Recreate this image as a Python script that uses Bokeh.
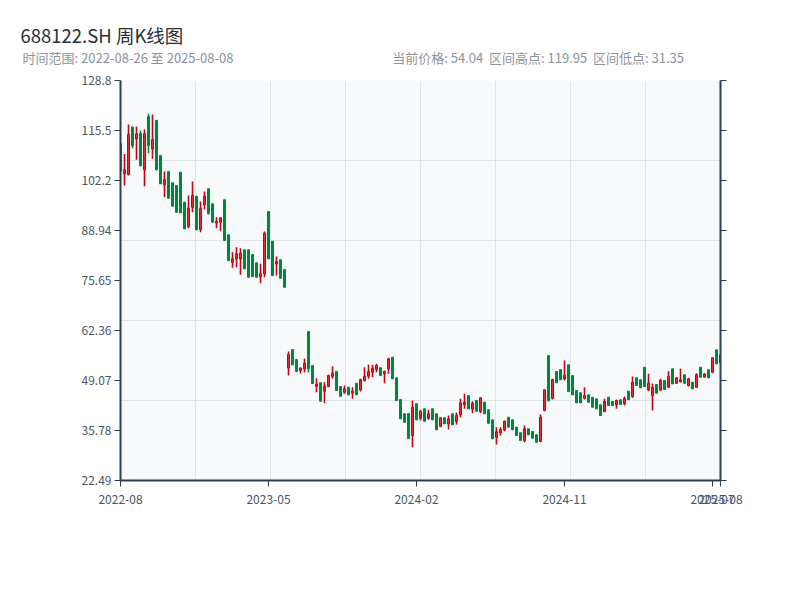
from bokeh.plotting import figure
from bokeh.models import Range1d, FixedTicker, LinearAxis, Title, ColumnDataSource
from bokeh.embed import file_html
from bokeh.resources import INLINE

title_text = "688122.SH 周K线图"
range_text = "时间范围: 2022-08-26 至 2025-08-08"
stats_text = "当前价格: 54.04\u00a0 区间高点: 119.95\u00a0 区间低点: 31.35"

tick_idx = [0, 37, 74, 111, 148, 150]
tick_labels = ["2022-08", "2023-05", "2024-02", "2024-11", "2025-07", "2025-08"]

y_min, y_max = 22.49, 128.81
y_ticks = [22.49, 35.78, 49.07, 62.36, 75.65, 88.94, 102.23, 115.52, 128.81]
y_tick_labels = ["22.49", "35.78", "49.07", "62.36", "75.65", "88.94", "102.2", "115.5", "128.8"]

opens = [111.96, 103.99, 103.81, 116.4, 113.30, 114.71, 105.06, 119.2, 110.64, 118.17,
         108.86, 101.07, 104.6, 101.6, 100.89, 104.42, 96.45, 90.07, 95.12, 98.04,
         89.19, 95.76, 100.01, 96.02, 90.97, 91.13, 97.09, 87.79, 80.50, 81.40,
         81.40, 83.80, 83.80, 82.55, 80.34, 76.70, 77.42, 93.98, 86.09, 80.07,
         81.14, 78.56, 52.38, 57.30, 54.64, 51.72, 52.17, 62.08, 53.04, 47.54,
         48.45, 46.21, 47.46, 50.20, 51.45, 47.46, 45.95, 47.28, 45.79, 48.34,
         46.58, 49.06, 50.20, 51.27, 51.98, 52.44, 50.84, 52.16, 55.25, 49.77,
         44.01, 40.21, 40.29, 34.44, 42.87, 39.04, 41.54, 39.04, 41.54, 40.21,
         36.92, 39.15, 37.56, 40.21, 38.24, 39.94, 42.68, 45.06, 41.54, 43.74,
         40.82, 43.29, 41.27, 38.61, 33.97, 35.17, 35.96, 39.31, 38.61, 36.65,
         35.16, 33.11, 36.22, 35.51, 34.64, 32.85, 41.09, 55.70, 44.35, 51.45,
         51.98, 49.51, 53.23, 50.39, 46.40, 45.79, 44.35, 45.26, 44.61, 44.19,
         42.60, 40.82, 44.61, 43.48, 42.60, 43.93, 42.94, 46.21, 44.81, 49.77,
         49.25, 52.59, 46.58, 45.06, 48.00, 46.58, 49.06, 47.28, 52.17, 48.34,
         48.70, 50.57, 47.73, 48.61, 47.28, 52.59, 49.99, 51.90, 51.27, 57.22,
         53.92]
highs = [112.2, 109.30, 117.10, 116.6, 116.57, 115.5, 115.77, 119.95, 119.76, 118.4,
         108.9, 104.61, 104.6, 101.6, 100.89, 104.42, 96.45, 98.23, 101.95, 98.04,
         96.63, 99.29, 100.01, 96.02, 92.46, 92.46, 97.09, 87.79, 83.16, 84.49,
         84.22, 83.80, 83.80, 82.55, 80.34, 80.07, 88.66, 93.98, 86.09, 82.02,
         81.14, 78.56, 56.77, 57.30, 54.64, 52.59, 54.90, 62.08, 53.04, 49.66,
         48.45, 48.61, 50.57, 52.86, 51.45, 47.46, 47.73, 47.28, 47.28, 48.34,
         49.51, 52.59, 53.31, 53.23, 53.49, 52.44, 51.72, 55.09, 55.25, 49.77,
         44.01, 40.21, 40.29, 43.74, 42.87, 41.27, 41.54, 41.27, 41.54, 40.21,
         39.31, 39.15, 39.75, 40.21, 40.47, 44.19, 45.52, 45.06, 43.55, 43.74,
         44.61, 43.29, 41.27, 38.61, 36.65, 36.65, 38.43, 39.31, 38.61, 36.65,
         35.16, 37.10, 36.22, 35.51, 34.64, 40.02, 46.67, 55.70, 49.51, 51.45,
         51.98, 54.37, 53.23, 50.39, 46.40, 45.79, 47.28, 45.26, 44.61, 44.19,
         42.60, 44.19, 44.61, 43.48, 44.01, 43.93, 44.81, 46.21, 50.12, 49.77,
         49.25, 52.59, 50.84, 48.28, 48.00, 49.51, 49.06, 51.53, 52.17, 49.94,
         52.17, 50.57, 49.77, 48.61, 51.00, 52.59, 51.00, 51.90, 55.25, 57.22,
         55.97]
lows = [104.5, 100.89, 103.55, 110.8, 107.72, 105.94, 100.70, 109.5, 107.98, 104.9,
        101.3, 97.78, 97.51, 95.39, 93.79, 93.63, 89.38, 89.54, 93.79, 89.11,
        88.48, 94.51, 93.37, 91.13, 89.54, 88.74, 86.27, 80.96, 79.01, 79.17,
        77.15, 78.75, 76.52, 76.70, 76.52, 74.93, 76.52, 81.40, 76.97, 76.97,
        76.25, 73.86, 50.39, 53.23, 51.45, 50.92, 51.19, 51.19, 48.26, 45.94,
        43.55, 43.03, 47.27, 49.51, 46.40, 44.88, 45.52, 45.26, 44.19, 45.26,
        46.13, 48.79, 49.51, 49.94, 51.27, 50.39, 48.34, 50.84, 49.51, 43.74,
        38.88, 37.97, 33.64, 31.35, 38.61, 38.43, 38.24, 38.61, 38.61, 35.96,
        36.65, 37.56, 36.04, 37.29, 37.37, 39.31, 41.54, 41.54, 40.37, 40.90,
        40.37, 40.21, 37.71, 33.56, 32.06, 34.44, 35.59, 36.65, 35.96, 34.44,
        33.11, 32.66, 34.62, 33.73, 32.66, 32.66, 40.90, 43.66, 44.01, 48.45,
        49.25, 49.06, 46.13, 45.26, 43.13, 43.13, 44.01, 43.29, 41.96, 41.54,
        39.75, 40.63, 42.41, 42.41, 41.54, 42.68, 42.41, 43.93, 44.46, 47.73,
        47.12, 47.46, 46.21, 41.09, 45.68, 46.21, 46.67, 47.12, 48.18, 48.18,
        48.61, 48.34, 47.46, 46.85, 47.12, 49.94, 49.77, 49.77, 51.00, 53.49,
        53.66]
closes = [104.70, 105.05, 114.44, 111.5, 114.63, 106.2, 114.63, 111.5, 113.11, 105.14,
          101.34, 102.48, 97.51, 95.39, 93.79, 93.63, 89.38, 94.85, 98.23, 89.11,
          94.85, 98.04, 93.37, 91.13, 91.40, 92.30, 86.27, 80.96, 81.40, 82.74,
          82.90, 78.75, 76.52, 76.70, 76.52, 77.42, 88.21, 81.40, 76.97, 80.69,
          76.25, 73.86, 55.97, 53.23, 51.45, 52.33, 53.66, 52.25, 48.26, 48.07,
          43.55, 47.54, 50.39, 51.00, 46.40, 44.88, 46.85, 45.26, 46.21, 45.26,
          49.25, 50.20, 51.45, 52.33, 53.04, 50.39, 51.45, 54.82, 49.51, 43.74,
          38.88, 37.97, 33.64, 41.96, 38.61, 40.82, 38.24, 40.21, 38.61, 35.96,
          39.15, 37.56, 38.88, 37.29, 39.75, 43.13, 43.29, 41.54, 43.03, 40.90,
          44.45, 40.21, 37.71, 33.56, 35.47, 36.04, 38.24, 36.65, 35.96, 34.44,
          33.11, 36.22, 34.62, 33.73, 32.66, 39.31, 46.58, 43.66, 49.32, 48.45,
          49.25, 50.39, 46.13, 45.26, 43.13, 43.13, 45.06, 43.29, 41.96, 41.54,
          39.75, 43.48, 42.41, 42.41, 43.74, 42.68, 44.27, 43.93, 48.61, 47.73,
          47.12, 47.46, 48.34, 47.28, 45.68, 49.06, 46.67, 50.12, 48.18, 49.77,
          49.25, 48.34, 49.51, 46.85, 50.57, 49.94, 50.78, 49.77, 55.09, 53.49,
          55.70]

RED_LINE = "#c8000f"
RED_FILL = "#ee2b2b"
GREEN = "#00873c"
AXIS = "#2c3e50"
FONT = "Noto Sans CJK SC"

n = len(opens)
idx = list(range(n))
up = [c >= o for o, c in zip(opens, closes)]
src = ColumnDataSource(dict(
    x=idx, high=highs, low=lows,
    top=[max(o, c) for o, c in zip(opens, closes)],
    bottom=[min(o, c) for o, c in zip(opens, closes)],
    line=[RED_LINE if u else GREEN for u in up],
    fill=[RED_FILL if u else GREEN for u in up],
))

p = figure(width=792, height=592, x_range=Range1d(0, n - 1), y_range=Range1d(y_min, y_max),
           output_backend="svg", toolbar_location=None, title=None,
           min_border_left=120, min_border_right=72, min_border_top=80, min_border_bottom=112)
p.background_fill_color = "#f7f9fb"
p.border_fill_color = "white"
p.outline_line_color = None

p.segment(x0="x", y0="high", x1="x", y1="low", source=src, line_color="line", line_width=1.6)
p.vbar(x="x", width=0.5, top="top", bottom="bottom", source=src,
       fill_color="fill", line_color="line", line_width=1)

p.xaxis.ticker = FixedTicker(ticks=tick_idx)
p.xaxis.major_label_overrides = {i: s for i, s in zip(tick_idx, tick_labels)}
p.yaxis.ticker = FixedTicker(ticks=y_ticks)
p.yaxis.major_label_overrides = {v: s for v, s in zip(y_ticks, y_tick_labels)}

right = LinearAxis(ticker=FixedTicker(ticks=y_ticks))
right.major_label_text_color = None
p.add_layout(right, "right")

for ax in [p.xaxis[0], p.yaxis[0], right]:
    ax.axis_line_color = AXIS
    ax.axis_line_width = 2
    ax.major_tick_line_color = AXIS
    ax.major_tick_line_width = 1
    ax.major_tick_out = 6
    ax.major_tick_in = 0
    ax.minor_tick_line_color = None
    ax.major_label_text_font = FONT
    ax.major_label_text_font_size = "12px"
p.xaxis.major_label_standoff = 8
p.yaxis[0].major_label_standoff = 3
p.xaxis.major_label_text_color = "#4a5563"
p.yaxis[0].major_label_text_color = "#4a5563"

p.xgrid.ticker = FixedTicker(ticks=[(n - 1) * k / 8 for k in range(1, 8)])
p.ygrid.ticker = FixedTicker(ticks=[y_min + (y_max - y_min) * k / 5 for k in range(1, 5)])
p.xgrid.grid_line_color = "#e1e5ea"
p.ygrid.grid_line_color = "#e1e5ea"

# header line (subtitle + stats) carried by an invisible axis above the frame
sub_pos = [1.875, 104.4]
header = LinearAxis(ticker=FixedTicker(ticks=sub_pos),
                    major_label_overrides={sub_pos[0]: range_text, sub_pos[1]: stats_text})
header.axis_line_color = None
header.major_tick_line_color = None
header.minor_tick_line_color = None
header.major_tick_out = 0
header.major_tick_in = 0
header.major_label_standoff = 14
header.major_label_text_font = FONT
header.major_label_text_font_size = "13px"
header.major_label_text_color = "#8c939c"
p.add_layout(header, "above")

try:
    main_title = Title(text=title_text, align="left", offset=-100, standoff=-6,
                       text_font=FONT, text_font_size="18.5px", text_font_style="normal",
                       text_color="#2a2f38")
except Exception:
    main_title = Title(text=title_text, align="left", offset=-100, standoff=0,
                       text_font=FONT, text_font_size="18.5px", text_font_style="normal",
                       text_color="#2a2f38")
p.add_layout(main_title, "above")

open("out.html", "w").write(file_html(p, INLINE))
